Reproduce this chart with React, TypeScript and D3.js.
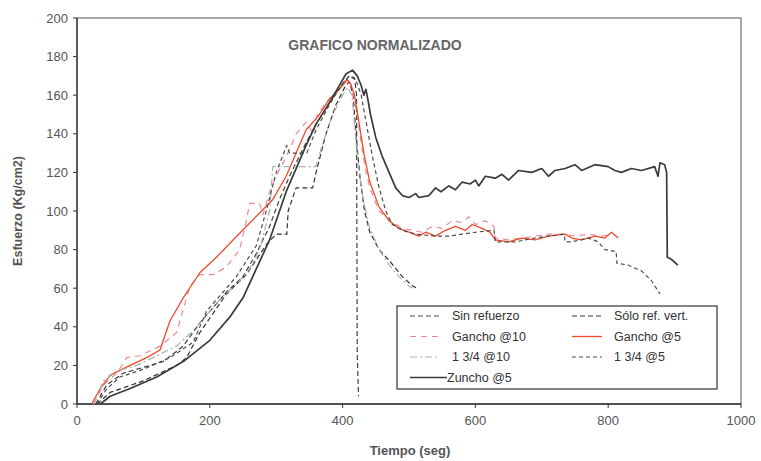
import React from "react";
import * as d3 from "d3";

// Chart size and plot frame
const width = 761;
const height = 461;
const MARGIN = { top: 18, right: 20, bottom: 57, left: 77 };

// Axis ticks
const xTicks = [0, 200, 400, 600, 800, 1000];
const yTicks = [0, 20, 40, 60, 80, 100, 120, 140, 160, 180, 200];

// Series names (legend order)
const names = [
  "Sin refuerzo",
  "Sólo ref. vert.",
  "Gancho @10",
  "Gancho @5",
  "1 3/4 @10",
  "1 3/4 @5",
  "Zuncho @5",
];

// [tiempo (seg), esfuerzo (kg/cm2)]
const sinRefuerzo: [number, number][] = [
  [28, 0], [45, 10], [70, 16], [100, 19], [130, 22], [160, 30], [185, 42], [205, 50],
  [225, 58], [250, 66], [270, 78], [290, 92], [305, 106], [320, 118], [340, 132],
  [360, 145], [380, 156], [398, 165], [410, 170], [418, 169], [421, 160], [422, 26], [424, 4],
];

const soloRefVert: [number, number][] = [
  [30, 0], [50, 6], [75, 9], [100, 12], [125, 16], [150, 20], [165, 24], [185, 37],
  [205, 47], [225, 57], [255, 67], [286, 83], [300, 88], [316, 88], [318, 100], [330, 112],
  [355, 112], [360, 120], [375, 140], [390, 155], [403, 164], [410, 167], [416, 160],
  [420, 140], [426, 118], [433, 100], [441, 89], [455, 80], [471, 74], [490, 66], [506, 61], [512, 60],
];

const gancho10: [number, number][] = [
  [25, 0], [40, 10], [60, 16], [75, 24], [95, 25], [125, 30], [150, 37], [160, 49],
  [170, 61], [185, 67], [205, 67], [225, 71], [245, 80], [255, 95], [260, 104], [275, 104],
  [280, 98], [290, 110], [300, 118], [315, 128], [330, 140], [345, 146], [356, 140],
  [362, 150], [375, 156], [390, 162], [405, 168], [412, 166], [418, 158], [426, 140],
  [434, 122], [441, 112], [455, 100], [471, 95], [490, 91], [505, 90], [520, 89],
  [535, 92], [550, 91], [565, 95], [580, 94], [590, 97], [600, 93], [615, 95], [628, 92],
  [630, 86], [650, 85], [670, 86], [690, 87], [710, 88], [730, 88], [750, 87], [770, 88],
  [790, 87], [805, 88],
];

const gancho5: [number, number][] = [
  [22, 0], [35, 8], [50, 15], [80, 20], [105, 24], [125, 28], [140, 43], [160, 55],
  [185, 68], [210, 76], [235, 85], [255, 92], [275, 99], [295, 106], [315, 118],
  [330, 130], [345, 142], [358, 147], [365, 150], [380, 158], [395, 163], [407, 168],
  [412, 166], [418, 160], [425, 145], [433, 128], [441, 115], [455, 102], [470, 95],
  [485, 91], [500, 89], [515, 87], [525, 89], [540, 87], [555, 90], [570, 92], [585, 90],
  [595, 93], [610, 91], [622, 89], [630, 85], [650, 84], [670, 86], [690, 85], [710, 87],
  [735, 88], [745, 86], [760, 85], [780, 87], [795, 86], [805, 89], [815, 86],
];

const trescuartos10: [number, number][] = [
  [25, 0], [40, 12], [60, 17], [90, 20], [120, 25], [150, 30], [175, 38], [200, 48],
  [220, 56], [240, 62], [260, 70], [275, 80], [290, 100], [295, 123], [320, 123],
  [360, 123], [370, 135], [385, 150], [400, 160], [408, 164], [414, 160], [418, 145],
  [423, 125], [430, 108], [440, 92], [455, 80], [470, 72], [485, 66], [500, 61], [505, 60],
];

const trescuartos5: [number, number][] = [
  [30, 0], [45, 8], [65, 14], [100, 18], [140, 24], [175, 32], [195, 48], [215, 56],
  [240, 66], [270, 82], [285, 100], [300, 120], [316, 134], [320, 130], [346, 130],
  [360, 142], [380, 155], [398, 165], [410, 170], [420, 168], [428, 160], [436, 145],
  [445, 128], [455, 112], [465, 100], [475, 93], [490, 90], [510, 88], [540, 87],
  [560, 87], [580, 88], [600, 89], [628, 90], [630, 84], [660, 84], [690, 86], [710, 87],
  [734, 88], [735, 84], [745, 84], [770, 86], [785, 84], [795, 80], [812, 79], [813, 73],
  [830, 72], [850, 69], [865, 64], [878, 57],
];

const zuncho5: [number, number][] = [
  [35, 0], [50, 4], [80, 8], [120, 14], [160, 22], [200, 33], [230, 45], [250, 55],
  [270, 70], [290, 85], [305, 100], [315, 110], [330, 122], [345, 134], [360, 145],
  [380, 156], [395, 165], [405, 171], [415, 173], [422, 170], [428, 165], [432, 160],
  [435, 163], [438, 158], [442, 150], [450, 138], [460, 128], [470, 120], [480, 112],
  [490, 108], [500, 107], [510, 109], [515, 107], [530, 108], [540, 112], [548, 110],
  [560, 113], [570, 111], [580, 115], [592, 114], [600, 116], [605, 113], [615, 118],
  [630, 117], [640, 119], [650, 116], [665, 121], [685, 120], [700, 122], [710, 118],
  [720, 121], [735, 122], [750, 124], [760, 121], [780, 124], [800, 123], [810, 121],
  [820, 120], [835, 122], [850, 121], [870, 123], [875, 118], [878, 125], [885, 124],
  [888, 120], [889, 76], [895, 75], [905, 72],
];

const seriesData = [sinRefuerzo, soloRefVert, gancho10, gancho5, trescuartos10, trescuartos5, zuncho5];
const colors = ["#3f3f3f", "#333333", "#ec8a9c", "#ee4b2b", "#a3b5a7", "#4d4d4d", "#3a3a3a"];
const dashes = ["5,3", "5,3", "6,5", "", "7,3,2,3", "4,3", ""];
const widths = [1.2, 1.2, 1.2, 1.3, 1.2, 1.2, 1.7];

export default function App() {
  const innerW = width - MARGIN.left - MARGIN.right;
  const innerH = height - MARGIN.top - MARGIN.bottom;

  const x = d3.scaleLinear().domain([0, 1000]).range([0, innerW]);
  const y = d3.scaleLinear().domain([0, 200]).range([innerH, 0]);

  const line = d3
    .line<[number, number]>()
    .x((d) => x(d[0]))
    .y((d) => y(d[1]));

  // legend layout
  const lg = { x: 320, y: 288, w: 320, h: 83 };
  const legendPos = [
    [0, 0], [1, 0], [0, 1], [1, 1], [0, 2], [1, 2], [0, 3],
  ];

  const font = "Arial, 'Liberation Sans', sans-serif";

  return (
    <div style={{ position: "absolute", left: 0, top: 0 }}>
      <svg width={width} height={height} style={{ display: "block", background: "#fff" }}>
        <g transform={`translate(${MARGIN.left},${MARGIN.top})`}>
          {/* frame */}
          <rect x={0} y={0} width={innerW} height={innerH} fill="none" stroke="#555" strokeWidth={1} />
          <line x1={0} y1={innerH} x2={innerW} y2={innerH} stroke="#333" strokeWidth={1.3} />
          <line x1={0} y1={0} x2={0} y2={innerH} stroke="#333" strokeWidth={1.3} />

          {/* y axis */}
          {yTicks.map((t) => (
            <g key={"y" + t} transform={`translate(0,${y(t)})`}>
              <line x1={-4} x2={0} stroke="#333" />
              <text x={-9} dy="0.35em" textAnchor="end" fontSize={13} fill="#555" fontFamily={font}>
                {t}
              </text>
            </g>
          ))}

          {/* x axis */}
          {xTicks.map((t) => (
            <g key={"x" + t} transform={`translate(${x(t)},${innerH})`}>
              <line y1={0} y2={4} stroke="#333" />
              <text y={21} textAnchor="middle" fontSize={13} fill="#555" fontFamily={font}>
                {t}
              </text>
            </g>
          ))}

          {/* series */}
          {seriesData.map((d, i) => (
            <path
              key={names[i]}
              d={line(d) || ""}
              fill="none"
              stroke={colors[i]}
              strokeWidth={widths[i]}
              strokeDasharray={dashes[i]}
              strokeLinejoin="round"
            />
          ))}

          {/* title */}
          <text x={298} y={32} textAnchor="middle" fontSize={14} fontWeight="bold" fill="#666" fontFamily={font}>
            GRAFICO NORMALIZADO
          </text>

          {/* legend */}
          <rect x={lg.x} y={lg.y} width={lg.w} height={lg.h} fill="#fff" stroke="#333" strokeWidth={1.2} />
          {names.map((n, i) => {
            const [c, r] = legendPos[i];
            const lx = lg.x + 13 + c * 162;
            const ly = lg.y + 10 + r * 20.5;
            const lineLen = i === 6 ? 37 : 30;
            return (
              <g key={"lg" + n}>
                <line
                  x1={lx}
                  x2={lx + lineLen}
                  y1={ly}
                  y2={ly}
                  stroke={colors[i]}
                  strokeWidth={widths[i]}
                  strokeDasharray={dashes[i]}
                />
                <text x={lx + (i === 6 ? 37 : 42)} y={ly} dy="0.35em" fontSize={12.5} fill="#333" fontFamily={font}>
                  {n}
                </text>
              </g>
            );
          })}
        </g>

        {/* axis titles */}
        <text
          transform={`translate(22,${MARGIN.top + innerH / 2}) rotate(-90)`}
          textAnchor="middle"
          fontSize={12.5}
          fontWeight="bold"
          fill="#555"
          fontFamily={font}
        >
          Esfuerzo (Kg/cm2)
        </text>
        <text x={410} y={455} textAnchor="middle" fontSize={13} fontWeight="bold" fill="#555" fontFamily={font}>
          Tiempo (seg)
        </text>
      </svg>
    </div>
  );
}
